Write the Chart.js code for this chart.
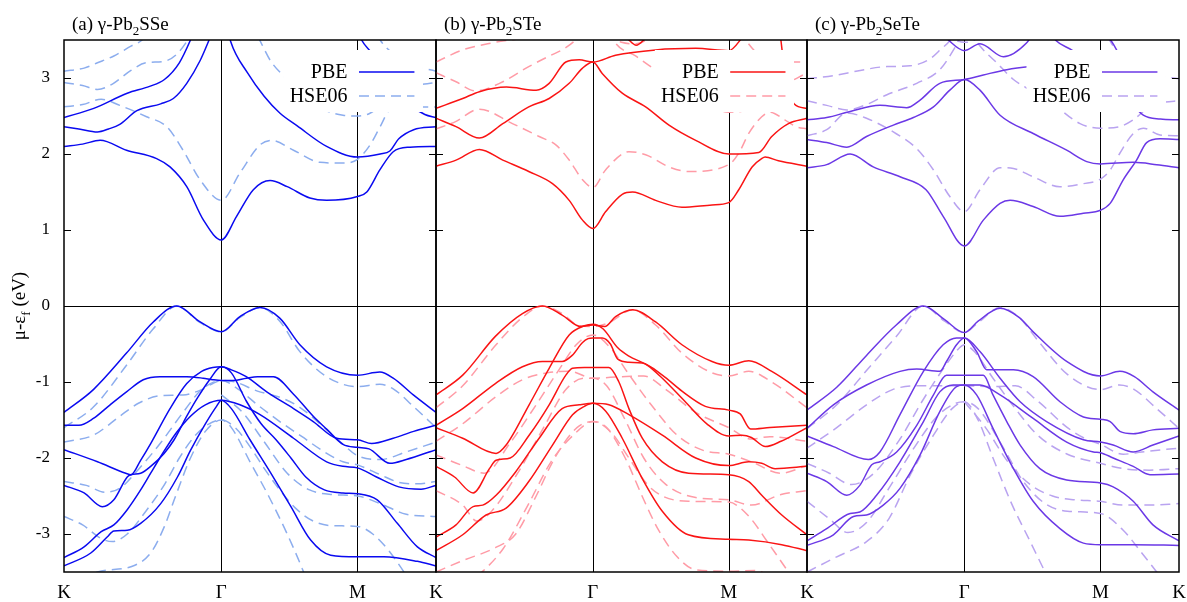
<!DOCTYPE html>
<html>
<head>
<meta charset="utf-8">
<script src="https://cdn.jsdelivr.net/npm/chart.js@4.4.1/dist/chart.umd.min.js"></script>
<style>
  html, body { margin: 0; padding: 0; background: #fff; }
  #wrap { position: relative; width: 1187px; height: 602px; overflow: hidden; }
  #wrap canvas { position: absolute; top: 0; }
</style>
</head>
<body>
<div id="wrap">
  <canvas id="pA" width="450" height="602" style="left:0px"></canvas>
  <canvas id="pB" width="391" height="602" style="left:431px"></canvas>
  <canvas id="pC" width="387" height="602" style="left:800px"></canvas>
</div>
<script>
// High-symmetry path K-Γ-M-K (fractional path length, hexagonal zone)
const kPoints = [0, 0.4226, 0.7887, 1];
const kLabels = ['K', 'Γ', 'M', 'K'];
const energyTicks = [-3, -2, -1, 0, 1, 2, 3];

// ---------- (a) γ-Pb2SSe ----------
const pbeSSe = [
  [[0,2.10],[0.05,2.13],[0.097,2.18],[0.168,2.05],[0.249,1.94],[0.285,1.83],[0.33,1.57],[0.375,1.13],[0.423,0.87],[0.464,1.18],[0.509,1.53],[0.554,1.65],[0.6,1.57],[0.661,1.42],[0.706,1.39],[0.789,1.44],[0.814,1.50],[0.849,1.79],[0.885,2.03],[0.93,2.09],[1,2.10]],
  [[0,2.36],[0.04,2.33],[0.09,2.29],[0.12,2.33],[0.15,2.39],[0.196,2.57],[0.26,2.66],[0.294,2.73],[0.33,2.93],[0.366,3.23],[0.39,3.5],[0.41,3.75],[0.423,3.85],[0.435,3.75],[0.448,3.48],[0.493,3.07],[0.538,2.76],[0.58,2.54],[0.627,2.37],[0.706,2.10],[0.789,1.96],[0.85,2.0],[0.876,2.04],[0.90,2.2],[0.94,2.32],[1,2.36]],
  [[0,2.48],[0.08,2.6],[0.17,2.8],[0.23,2.89],[0.27,2.98],[0.31,3.2],[0.34,3.5],[0.36,3.75],[0.42,4.2],[0.6,4.2],[0.78,3.75],[0.80,3.5],[0.827,3.33],[0.88,2.95],[0.93,2.65],[0.97,2.52],[1,2.48]],
  [[0,-1.40],[0.079,-1.1],[0.168,-0.62],[0.24,-0.21],[0.303,0],[0.366,-0.21],[0.423,-0.34],[0.473,-0.14],[0.527,-0.02],[0.58,-0.16],[0.634,-0.51],[0.706,-0.80],[0.789,-0.91],[0.849,-0.87],[0.885,-0.95],[0.939,-1.17],[1,-1.40]],
  [[0,-1.57],[0.04,-1.57],[0.079,-1.48],[0.124,-1.30],[0.168,-1.13],[0.213,-0.97],[0.258,-0.93],[0.33,-0.93],[0.374,-0.95],[0.40,-0.97],[0.423,-0.98],[0.455,-0.98],[0.49,-0.95],[0.52,-0.93],[0.563,-0.93],[0.617,-1.16],[0.67,-1.45],[0.706,-1.62],[0.75,-1.82],[0.789,-1.86],[0.82,-1.88],[0.876,-2.07],[0.92,-2.02],[1,-1.89]],
  [[0,-1.89],[0.09,-2.05],[0.166,-2.20],[0.18,-2.22],[0.206,-2.03],[0.233,-1.81],[0.285,-1.35],[0.33,-1.02],[0.37,-0.86],[0.40,-0.81],[0.423,-0.80],[0.45,-0.84],[0.49,-0.93],[0.545,-1.13],[0.617,-1.35],[0.67,-1.52],[0.733,-1.74],[0.789,-1.76],[0.827,-1.81],[0.885,-1.74],[0.94,-1.65],[1,-1.57]],
  [[0,-2.36],[0.054,-2.46],[0.103,-2.64],[0.134,-2.55],[0.17,-2.25],[0.18,-2.22],[0.206,-2.2],[0.233,-2.11],[0.269,-1.94],[0.296,-1.76],[0.33,-1.45],[0.36,-1.2],[0.39,-0.98],[0.423,-0.80],[0.45,-0.88],[0.49,-1.25],[0.53,-1.55],[0.57,-1.76],[0.61,-2.0],[0.65,-2.25],[0.70,-2.42],[0.75,-2.46],[0.789,-2.47],[0.842,-2.55],[0.896,-2.86],[0.95,-3.17],[1,-3.31]],
  [[0,-3.31],[0.054,-3.17],[0.1,-2.97],[0.134,-2.88],[0.17,-2.68],[0.206,-2.42],[0.233,-2.20],[0.26,-1.98],[0.30,-1.68],[0.34,-1.45],[0.38,-1.3],[0.423,-1.24],[0.473,-1.30],[0.527,-1.43],[0.617,-1.74],[0.706,-2.05],[0.75,-2.11],[0.789,-2.13],[0.84,-2.25],[0.9,-2.38],[0.96,-2.41],[1,-2.36]],
  [[0,-3.42],[0.072,-3.25],[0.116,-3.04],[0.134,-2.96],[0.17,-2.95],[0.206,-2.86],[0.26,-2.6],[0.305,-2.25],[0.34,-1.9],[0.38,-1.55],[0.41,-1.32],[0.423,-1.24],[0.45,-1.35],[0.50,-1.76],[0.556,-2.20],[0.61,-2.64],[0.663,-3.08],[0.717,-3.28],[0.789,-3.30],[0.86,-3.30],[0.95,-3.36],[1,-3.42]]
];
const hseSSe = [
  [[0,2.62],[0.05,2.65],[0.1,2.72],[0.15,2.64],[0.222,2.49],[0.276,2.36],[0.32,2.05],[0.366,1.66],[0.423,1.39],[0.473,1.75],[0.527,2.12],[0.558,2.18],[0.617,2.05],[0.688,1.89],[0.75,1.88],[0.789,1.93],[0.823,2.12],[0.85,2.36],[0.876,2.58],[0.92,2.62],[1,2.62]],
  [[0,2.94],[0.05,2.9],[0.09,2.85],[0.13,2.92],[0.18,3.1],[0.22,3.2],[0.27,3.22],[0.3,3.3],[0.33,3.48],[0.36,3.75],[0.423,4.1],[0.49,3.75],[0.52,3.55],[0.556,3.22],[0.596,3.0],[0.65,2.75],[0.70,2.58],[0.75,2.51],[0.789,2.5],[0.82,2.53],[0.87,2.7],[0.93,2.88],[1,2.94]],
  [[0,3.09],[0.054,3.13],[0.09,3.2],[0.134,3.29],[0.18,3.42],[0.21,3.5],[0.25,3.75],[0.423,4.3],[0.8,4.0],[0.85,3.5],[0.885,3.32],[0.93,3.18],[1,3.09]],
  [[0,-1.60],[0.079,-1.33],[0.168,-0.78],[0.24,-0.3],[0.303,0],[0.366,-0.22],[0.423,-0.34],[0.473,-0.15],[0.527,-0.02],[0.58,-0.2],[0.634,-0.6],[0.706,-0.93],[0.789,-1.06],[0.849,-1.03],[0.885,-1.09],[0.939,-1.32],[1,-1.60]],
  [[0,-1.79],[0.079,-1.7],[0.15,-1.45],[0.2,-1.28],[0.26,-1.18],[0.32,-1.17],[0.37,-1.1],[0.40,-1.02],[0.423,-0.98],[0.46,-1.0],[0.52,-1.12],[0.58,-1.2],[0.63,-1.32],[0.7,-1.6],[0.75,-1.82],[0.789,-1.97],[0.85,-2.02],[0.92,-1.92],[1,-1.79]],
  [[0,-2.31],[0.06,-2.36],[0.11,-2.45],[0.15,-2.4],[0.2,-2.15],[0.26,-1.8],[0.32,-1.4],[0.37,-1.1],[0.423,-0.98],[0.47,-1.1],[0.52,-1.3],[0.58,-1.52],[0.64,-1.72],[0.7,-1.92],[0.75,-2.05],[0.789,-2.09],[0.85,-2.22],[0.9,-2.32],[0.95,-2.34],[1,-2.31]],
  [[0,-2.77],[0.05,-2.88],[0.1,-3.06],[0.13,-3.1],[0.17,-3.0],[0.22,-2.7],[0.27,-2.35],[0.31,-2.0],[0.35,-1.72],[0.39,-1.55],[0.423,-1.5],[0.46,-1.6],[0.5,-1.85],[0.54,-2.15],[0.58,-2.42],[0.62,-2.65],[0.67,-2.83],[0.72,-2.89],[0.789,-2.9],[0.83,-3.0],[0.87,-3.2],[0.9,-3.4],[0.93,-3.62]],
  [[0.05,-3.62],[0.09,-3.5],[0.18,-3.43],[0.233,-3.25],[0.27,-2.9],[0.3,-2.5],[0.34,-2.0],[0.38,-1.65],[0.423,-1.5],[0.45,-1.6],[0.5,-2.05],[0.55,-2.5],[0.6,-3.0],[0.64,-3.45],[0.66,-3.7]],
  [[0.423,-1.17],[0.48,-1.4],[0.54,-1.8],[0.6,-2.2],[0.66,-2.42],[0.72,-2.48],[0.789,-2.5],[0.85,-2.6],[0.92,-2.74],[1,-2.77]]
];

// ---------- (b) γ-Pb2STe ----------
const pbeSTe = [
  [[0,1.84],[0.054,1.92],[0.117,2.06],[0.18,1.92],[0.25,1.77],[0.314,1.61],[0.359,1.39],[0.395,1.13],[0.423,1.02],[0.457,1.24],[0.502,1.47],[0.53,1.50],[0.592,1.39],[0.663,1.30],[0.744,1.33],[0.789,1.36],[0.816,1.53],[0.852,1.83],[0.878,1.94],[0.887,1.96],[0.923,1.91],[1,1.84]],
  [[0,2.47],[0.054,2.36],[0.117,2.21],[0.18,2.40],[0.25,2.62],[0.305,2.73],[0.359,2.93],[0.395,3.13],[0.423,3.21],[0.448,3.06],[0.502,2.80],[0.565,2.62],[0.628,2.38],[0.7,2.18],[0.789,2.0],[0.87,2.02],[0.905,2.23],[0.95,2.40],[1,2.47]],
  [[0,2.60],[0.072,2.73],[0.117,2.82],[0.19,2.88],[0.27,2.84],[0.305,2.93],[0.35,3.21],[0.386,3.24],[0.423,3.21],[0.484,3.30],[0.592,3.37],[0.7,3.39],[0.789,3.36],[0.82,3.5],[0.85,3.75],[0.92,3.75],[0.94,3.1],[0.965,2.66],[1,2.60]],
  [[0.50,3.62],[0.52,3.5],[0.54,3.43],[0.56,3.5],[0.58,3.62]],
  [[0,-1.17],[0.072,-0.91],[0.16,-0.40],[0.233,-0.10],[0.287,0],[0.34,-0.12],[0.39,-0.27],[0.423,-0.25],[0.455,-0.27],[0.484,-0.14],[0.53,-0.05],[0.592,-0.21],[0.663,-0.51],[0.744,-0.73],[0.789,-0.78],[0.843,-0.72],[0.905,-0.86],[1,-1.17]],
  [[0,-1.57],[0.072,-1.35],[0.16,-1.02],[0.233,-0.80],[0.287,-0.73],[0.34,-0.73],[0.367,-0.65],[0.395,-0.48],[0.41,-0.43],[0.423,-0.42],[0.448,-0.42],[0.47,-0.5],[0.49,-0.70],[0.52,-0.74],[0.556,-0.75],[0.61,-0.91],[0.663,-1.12],[0.726,-1.32],[0.789,-1.37],[0.82,-1.42],[0.848,-1.62],[0.9,-1.6],[1,-1.57]],
  [[0,-1.60],[0.072,-1.74],[0.162,-1.94],[0.189,-1.83],[0.251,-1.30],[0.305,-0.82],[0.359,-0.38],[0.40,-0.26],[0.423,-0.24],[0.45,-0.3],[0.49,-0.55],[0.52,-0.66],[0.57,-0.78],[0.61,-0.95],[0.67,-1.25],[0.73,-1.55],[0.789,-1.71],[0.825,-1.70],[0.85,-1.73],[0.888,-1.85],[0.93,-1.78],[1,-1.60]],
  [[0,-2.11],[0.05,-2.25],[0.1,-2.46],[0.144,-2.14],[0.162,-2.03],[0.2,-2.0],[0.251,-1.70],[0.305,-1.30],[0.35,-0.91],[0.368,-0.82],[0.40,-0.81],[0.423,-0.81],[0.466,-0.81],[0.493,-1.0],[0.52,-1.35],[0.556,-1.74],[0.61,-2.05],[0.681,-2.20],[0.789,-2.22],[0.843,-2.31],[0.878,-2.49],[0.932,-2.75],[1,-3.01]],
  [[0,-3.04],[0.054,-2.88],[0.1,-2.64],[0.126,-2.62],[0.162,-2.49],[0.215,-2.18],[0.278,-1.74],[0.34,-1.35],[0.386,-1.30],[0.423,-1.28],[0.466,-1.30],[0.52,-1.43],[0.61,-1.70],[0.7,-2.0],[0.789,-2.10],[0.843,-2.05],[0.878,-2.07],[0.914,-2.14],[1,-2.11]],
  [[0,-3.22],[0.072,-3.01],[0.135,-2.75],[0.189,-2.66],[0.25,-2.31],[0.314,-1.83],[0.368,-1.43],[0.40,-1.32],[0.423,-1.28],[0.457,-1.38],[0.502,-1.74],[0.556,-2.27],[0.61,-2.70],[0.68,-3.01],[0.789,-3.07],[0.843,-3.08],[0.932,-3.14],[1,-3.22]]
];
const hseSTe = [
  [[0,2.33],[0.05,2.42],[0.117,2.59],[0.206,2.40],[0.278,2.23],[0.323,2.12],[0.359,1.92],[0.395,1.66],[0.423,1.56],[0.457,1.79],[0.52,2.03],[0.565,1.99],[0.628,1.83],[0.681,1.77],[0.789,1.86],[0.816,2.01],[0.843,2.27],[0.878,2.49],[0.9,2.55],[0.94,2.45],[0.97,2.36],[1,2.33]],
  [[0,3.07],[0.054,2.95],[0.107,2.83],[0.18,2.95],[0.25,3.15],[0.31,3.3],[0.34,3.37],[0.38,3.52],[0.42,3.8],[0.46,3.7],[0.484,3.46],[0.538,3.29],[0.582,3.14],[0.6,3.09],[0.65,2.9],[0.7,2.7],[0.75,2.6],[0.789,2.55],[0.85,2.6],[0.92,2.85],[1,3.07]],
  [[0,3.21],[0.072,3.37],[0.16,3.47],[0.25,3.55],[0.5,4.2],[0.8,3.8],[0.835,3.5],[0.878,3.28],[0.94,3.22],[1,3.21]],
  [[0.46,3.6],[0.5,3.47],[0.54,3.45],[0.58,3.55],[0.6,3.65]],
  [[0,-1.34],[0.072,-1.05],[0.16,-0.52],[0.233,-0.15],[0.287,0],[0.34,-0.1],[0.381,-0.25],[0.423,-0.27],[0.466,-0.22],[0.53,-0.05],[0.592,-0.25],[0.663,-0.62],[0.744,-0.88],[0.789,-0.92],[0.843,-0.86],[0.905,-1.0],[1,-1.34]],
  [[0,-1.78],[0.072,-1.55],[0.16,-1.2],[0.233,-0.97],[0.3,-0.88],[0.36,-0.86],[0.423,-0.95],[0.5,-0.93],[0.56,-0.92],[0.62,-1.1],[0.7,-1.4],[0.789,-1.6],[0.85,-1.75],[0.9,-1.72],[1,-1.78]],
  [[0,-1.96],[0.072,-2.1],[0.13,-2.2],[0.2,-1.8],[0.27,-1.3],[0.33,-0.85],[0.38,-0.5],[0.423,-0.38],[0.47,-0.55],[0.52,-0.9],[0.58,-1.3],[0.65,-1.7],[0.72,-1.9],[0.789,-1.95],[0.85,-2.05],[0.93,-2.2],[1,-2.1]],
  [[0,-2.43],[0.072,-2.62],[0.11,-2.83],[0.15,-2.7],[0.22,-2.2],[0.29,-1.6],[0.35,-1.1],[0.40,-0.95],[0.423,-0.95],[0.46,-1.05],[0.51,-1.5],[0.56,-2.0],[0.62,-2.35],[0.7,-2.52],[0.789,-2.55],[0.85,-2.62],[0.93,-2.48],[1,-2.43]],
  [[0.08,-3.7],[0.18,-3.2],[0.25,-2.6],[0.31,-2.05],[0.37,-1.7],[0.423,-1.52],[0.46,-1.6],[0.51,-2.0],[0.56,-2.55],[0.6,-2.95],[0.65,-3.3],[0.7,-3.47],[0.789,-3.49],[0.86,-3.48],[0.92,-3.62]],
  [[0,-3.5],[0.072,-3.35],[0.16,-3.18],[0.215,-3.0],[0.27,-2.5],[0.32,-2.0],[0.38,-1.6],[0.423,-1.52],[0.47,-1.65],[0.52,-2.0],[0.57,-2.35],[0.61,-2.5],[0.68,-2.57],[0.789,-2.58],[0.84,-2.75],[0.9,-3.15],[0.95,-3.5],[0.98,-3.7]]
];

// ---------- (c) γ-Pb2SeTe ----------
const pbeSeTe = [
  [[0,1.82],[0.053,1.86],[0.116,2.0],[0.178,1.83],[0.25,1.70],[0.32,1.53],[0.366,1.18],[0.423,0.79],[0.474,1.13],[0.519,1.35],[0.546,1.39],[0.608,1.31],[0.68,1.18],[0.743,1.22],[0.789,1.26],[0.815,1.35],[0.85,1.66],[0.886,1.92],[0.913,2.15],[0.949,2.2],[1,2.19]],
  [[0,2.19],[0.053,2.15],[0.107,2.09],[0.16,2.23],[0.232,2.38],[0.286,2.48],[0.34,2.62],[0.384,2.84],[0.423,2.98],[0.465,2.84],[0.519,2.51],[0.608,2.27],[0.698,2.05],[0.752,1.90],[0.789,1.87],[0.877,1.89],[0.94,1.86],[1,1.82]],
  [[0,2.45],[0.053,2.48],[0.116,2.56],[0.196,2.64],[0.268,2.61],[0.304,2.71],[0.357,2.93],[0.423,2.98],[0.474,3.04],[0.537,3.11],[0.6,3.15],[0.66,3.17],[0.75,3.1],[0.789,3.0],[0.85,2.8],[0.904,2.51],[0.95,2.46],[1,2.45]],
  [[0.36,3.6],[0.38,3.5],[0.423,3.36],[0.465,3.45],[0.528,3.28],[0.59,3.46],[0.61,3.6]],
  [[0.64,3.7],[0.67,3.49],[0.714,3.36],[0.76,3.15]],
  [[0.80,3.6],[0.823,3.45],[0.84,3.3]],
  [[0,-1.37],[0.08,-1.07],[0.16,-0.65],[0.24,-0.25],[0.313,0],[0.37,-0.18],[0.423,-0.35],[0.46,-0.2],[0.519,-0.03],[0.57,-0.15],[0.608,-0.34],[0.698,-0.73],[0.789,-0.92],[0.841,-0.86],[0.88,-0.93],[0.93,-1.13],[1,-1.37]],
  [[0,-1.61],[0.071,-1.30],[0.16,-1.04],[0.25,-0.86],[0.295,-0.83],[0.357,-0.86],[0.375,-0.73],[0.402,-0.51],[0.423,-0.42],[0.456,-0.6],[0.483,-0.84],[0.555,-0.84],[0.608,-0.93],[0.68,-1.26],[0.743,-1.46],[0.789,-1.49],[0.815,-1.52],[0.841,-1.65],[0.877,-1.68],[0.93,-1.63],[1,-1.61]],
  [[0,-1.71],[0.071,-1.85],[0.165,-2.02],[0.196,-1.92],[0.25,-1.43],[0.313,-0.86],[0.366,-0.51],[0.402,-0.42],[0.423,-0.42],[0.465,-0.6],[0.519,-0.95],[0.573,-1.26],[0.644,-1.52],[0.743,-1.76],[0.789,-1.79],[0.823,-1.83],[0.877,-1.92],[0.93,-1.83],[1,-1.71]],
  [[0,-2.20],[0.053,-2.31],[0.107,-2.49],[0.142,-2.36],[0.174,-2.09],[0.196,-2.05],[0.241,-1.92],[0.295,-1.57],[0.34,-1.17],[0.375,-0.91],[0.423,-0.91],[0.474,-0.91],[0.5,-1.17],[0.537,-1.52],[0.573,-1.83],[0.626,-2.14],[0.698,-2.29],[0.789,-2.33],[0.823,-2.38],[0.877,-2.57],[0.93,-2.88],[1,-3.09]],
  [[0,-3.09],[0.053,-2.93],[0.116,-2.73],[0.142,-2.71],[0.187,-2.49],[0.25,-2.05],[0.313,-1.52],[0.357,-1.13],[0.393,-1.04],[0.423,-1.04],[0.465,-1.04],[0.519,-1.17],[0.608,-1.48],[0.698,-1.79],[0.77,-1.92],[0.789,-1.93],[0.823,-2.0],[0.877,-2.11],[0.922,-2.22],[1,-2.21]],
  [[0,-3.15],[0.071,-3.01],[0.125,-2.77],[0.16,-2.75],[0.205,-2.62],[0.25,-2.4],[0.304,-1.96],[0.357,-1.39],[0.402,-1.06],[0.423,-1.04],[0.456,-1.17],[0.5,-1.61],[0.555,-2.14],[0.608,-2.57],[0.68,-2.93],[0.743,-3.12],[0.789,-3.14],[0.877,-3.14],[1,-3.15]]
];
const hseSeTe = [
  [[0,2.24],[0.053,2.32],[0.107,2.54],[0.16,2.47],[0.232,2.29],[0.295,2.07],[0.34,1.79],[0.384,1.44],[0.423,1.24],[0.465,1.53],[0.519,1.82],[0.555,1.81],[0.608,1.70],[0.68,1.57],[0.743,1.61],[0.789,1.67],[0.815,1.79],[0.841,2.01],[0.877,2.27],[0.904,2.34],[0.949,2.25],[1,2.24]],
  [[0,2.70],[0.053,2.64],[0.107,2.58],[0.16,2.65],[0.215,2.78],[0.295,2.93],[0.357,3.11],[0.4,3.42],[0.42,3.6],[0.44,3.6],[0.465,3.42],[0.51,3.2],[0.555,2.98],[0.6,2.84],[0.65,2.7],[0.734,2.4],[0.789,2.34],[0.84,2.36],[0.877,2.45],[0.92,2.62],[0.96,2.68],[1,2.70]],
  [[0,2.99],[0.071,3.03],[0.143,3.1],[0.214,3.15],[0.277,3.16],[0.33,3.25],[0.36,3.38],[0.385,3.5],[0.4,3.65],[0.6,4.0],[0.8,3.6],[0.823,3.42],[0.86,3.2],[0.92,3.05],[1,2.99]],
  [[0.37,3.6],[0.4,3.5],[0.423,3.47],[0.45,3.5],[0.47,3.6]],
  [[0,-1.61],[0.08,-1.3],[0.16,-0.85],[0.24,-0.4],[0.313,0],[0.37,-0.2],[0.423,-0.35],[0.46,-0.22],[0.519,-0.02],[0.57,-0.15],[0.62,-0.45],[0.7,-0.9],[0.789,-1.1],[0.84,-1.04],[0.88,-1.1],[0.94,-1.35],[1,-1.61]],
  [[0,-1.87],[0.08,-1.6],[0.16,-1.3],[0.23,-1.1],[0.3,-1.05],[0.36,-1.05],[0.423,-1.05],[0.5,-1.06],[0.56,-1.05],[0.62,-1.25],[0.7,-1.6],[0.75,-1.75],[0.789,-1.82],[0.85,-1.95],[0.9,-1.92],[1,-1.87]],
  [[0,-2.07],[0.06,-2.2],[0.12,-2.35],[0.18,-2.2],[0.25,-1.75],[0.31,-1.25],[0.37,-0.8],[0.41,-0.55],[0.423,-0.51],[0.45,-0.6],[0.5,-0.95],[0.56,-1.35],[0.62,-1.7],[0.7,-1.95],[0.789,-2.07],[0.85,-2.14],[0.92,-2.16],[1,-2.14]],
  [[0,-2.57],[0.06,-2.8],[0.11,-2.98],[0.16,-2.85],[0.22,-2.4],[0.29,-1.85],[0.35,-1.45],[0.4,-1.28],[0.423,-1.26],[0.46,-1.35],[0.52,-1.8],[0.58,-2.3],[0.64,-2.6],[0.7,-2.7],[0.789,-2.73],[0.85,-2.95],[0.9,-3.25],[0.94,-3.5],[0.97,-3.7]],
  [[0,-3.5],[0.08,-3.3],[0.16,-3.1],[0.22,-2.8],[0.28,-2.2],[0.34,-1.7],[0.39,-1.35],[0.423,-1.26],[0.46,-1.5],[0.5,-2.0],[0.55,-2.6],[0.6,-3.1],[0.64,-3.5],[0.66,-3.7]],
  [[0.423,-1.26],[0.48,-1.6],[0.54,-2.05],[0.6,-2.35],[0.66,-2.5],[0.72,-2.55],[0.789,-2.57],[0.85,-2.62],[0.92,-2.62],[1,-2.6]]
];

const FONT = "'Liberation Serif', 'DejaVu Serif', serif";

// draws a run of text pieces, with subscripts lowered and shrunk
function drawRich(ctx, parts, x, y, size) {
  let cx = x;
  for (const p of parts) {
    const s = p.sub ? Math.round(size * 0.7) : size;
    ctx.font = s + 'px ' + FONT;
    ctx.fillText(p.t, cx, p.sub ? y + size * 0.28 : y);
    cx += ctx.measureText(p.t).width;
  }
}
function richWidth(ctx, parts, size) {
  let w = 0;
  for (const p of parts) {
    ctx.font = (p.sub ? Math.round(size * 0.7) : size) + 'px ' + FONT;
    w += ctx.measureText(p.t).width;
  }
  return w;
}

const bandFrame = {
  id: 'bandFrame',
  beforeDatasetsDraw(chart, args, o) {
    const { ctx, chartArea: a, scales: { x, y } } = chart;
    ctx.save();
    ctx.strokeStyle = '#000';
    ctx.lineWidth = 1;
    ctx.beginPath();
    for (const k of [kPoints[1], kPoints[2]]) {
      const px = Math.round(x.getPixelForValue(k)) + 0.5;
      ctx.moveTo(px, a.top); ctx.lineTo(px, a.bottom);
    }
    const py = Math.round(y.getPixelForValue(0)) + 0.5;
    ctx.moveTo(a.left, py); ctx.lineTo(a.right, py);
    ctx.stroke();
    ctx.restore();
  },
  afterDatasetsDraw(chart, args, o) {
    const { ctx, chartArea: a, scales: { x, y } } = chart;
    const w = a.right - a.left;
    ctx.save();
    // opaque key box
    const bx0 = a.left + 0.59 * w, bx1 = a.left + 0.965 * w;
    const by0 = a.top + 10, by1 = a.top + 72;
    ctx.fillStyle = '#fff';
    ctx.fillRect(bx0, by0, bx1 - bx0, by1 - by0);
    const rows = [
      { label: 'PBE', color: o.solid, dash: [] , yy: a.top + 32 },
      { label: 'HSE06', color: o.dashed, dash: [10, 6], yy: a.top + 56 }
    ];
    ctx.font = '20px ' + FONT;
    ctx.textAlign = 'right';
    ctx.textBaseline = 'middle';
    for (const r of rows) {
      ctx.fillStyle = '#000';
      ctx.fillText(r.label, a.left + 0.762 * w, r.yy + 1);
      ctx.strokeStyle = r.color;
      ctx.lineWidth = 1.5;
      ctx.setLineDash(r.dash);
      ctx.beginPath();
      ctx.moveTo(a.left + 0.793 * w, r.yy);
      ctx.lineTo(a.left + 0.942 * w, r.yy);
      ctx.stroke();
    }
    ctx.setLineDash([]);
    // frame
    ctx.strokeStyle = '#000';
    ctx.lineWidth = 1.5;
    ctx.strokeRect(a.left, a.top, w, a.bottom - a.top);
    // inward tick marks on both sides
    ctx.lineWidth = 1;
    ctx.beginPath();
    for (const e of energyTicks) {
      const py = Math.round(y.getPixelForValue(e)) + 0.5;
      ctx.moveTo(a.left, py); ctx.lineTo(a.left + 7, py);
      ctx.moveTo(a.right - 7, py); ctx.lineTo(a.right, py);
    }
    ctx.stroke();
    // path labels under the frame
    ctx.fillStyle = '#000';
    ctx.font = '19px ' + FONT;
    ctx.textAlign = 'center';
    ctx.textBaseline = 'middle';
    kPoints.forEach((k, i) => {
      if (i === 0 && !o.firstLabel) return;
      ctx.fillText(kLabels[i], x.getPixelForValue(k), a.bottom + 21);
    });
    // panel title
    ctx.textAlign = 'left';
    ctx.textBaseline = 'alphabetic';
    drawRich(ctx, o.title, a.left + 8, a.top - 10, 19);
    // energy axis title
    if (o.yTitle) {
      const parts = [{ t: 'μ-ε' }, { t: 'f', sub: true }, { t: ' (eV)' }];
      ctx.translate(25, (a.top + a.bottom) / 2);
      ctx.rotate(-Math.PI / 2);
      const tw = richWidth(ctx, parts, 19);
      drawRich(ctx, parts, -tw / 2, 0, 19);
    }
    ctx.restore();
  }
};

function makePanel(id, pbe, hse, opt) {
  const datasets = [];
  pbe.forEach(b => datasets.push({
    data: b.map(([k, e]) => ({ x: k, y: e })),
    borderColor: opt.solid, borderWidth: 1.5, pointRadius: 0,
    cubicInterpolationMode: 'monotone', fill: false, order: 0
  }));
  hse.forEach(b => datasets.push({
    data: b.map(([k, e]) => ({ x: k, y: e })),
    borderColor: opt.dashed, borderWidth: 1.5, borderDash: [10, 6], pointRadius: 0,
    cubicInterpolationMode: 'monotone', fill: false, order: 1
  }));
  return new Chart(document.getElementById(id), {
    type: 'line',
    data: { datasets },
    options: {
      responsive: false,
      animation: false,
      events: [],
      layout: { padding: { left: opt.padLeft, right: opt.padRight, top: 40, bottom: 0 } },
      scales: {
        x: {
          type: 'linear', min: 0, max: 1,
          grid: { display: false }, border: { display: false },
          ticks: { display: false },
          afterFit: s => { s.height = 30; }
        },
        y: {
          type: 'linear', min: -3.5, max: 3.5,
          display: opt.yLabels,
          grid: { display: false, drawTicks: false }, border: { display: false },
          afterBuildTicks: s => { s.ticks = energyTicks.map(v => ({ value: v })); },
          ticks: { color: '#000', padding: 14, font: { family: FONT, size: 17 } },
          afterFit: s => { s.width = opt.yLabels ? 64 : 0; }
        }
      },
      plugins: {
        legend: { display: false },
        tooltip: { enabled: false },
        bandFrame: opt
      }
    },
    plugins: [bandFrame]
  });
}

makePanel('pA', pbeSSe, hseSSe, {
  solid: '#0a0af0', dashed: '#8cadee', padLeft: 0, padRight: 14, yLabels: true, yTitle: true, firstLabel: true,
  title: [{ t: '(a) γ-Pb' }, { t: '2', sub: true }, { t: 'SSe' }]
});
makePanel('pB', pbeSTe, hseSTe, {
  solid: '#fa1414', dashed: '#ff9ba6', padLeft: 5, padRight: 15, yLabels: false, yTitle: false, firstLabel: false,
  title: [{ t: '(b) γ-Pb' }, { t: '2', sub: true }, { t: 'STe' }]
});
makePanel('pC', pbeSeTe, hseSeTe, {
  solid: '#6b38e6', dashed: '#b9a3f0', padLeft: 7, padRight: 8, yLabels: false, yTitle: false, firstLabel: false,
  title: [{ t: '(c) γ-Pb' }, { t: '2', sub: true }, { t: 'SeTe' }]
});
</script>
</body>
</html>
